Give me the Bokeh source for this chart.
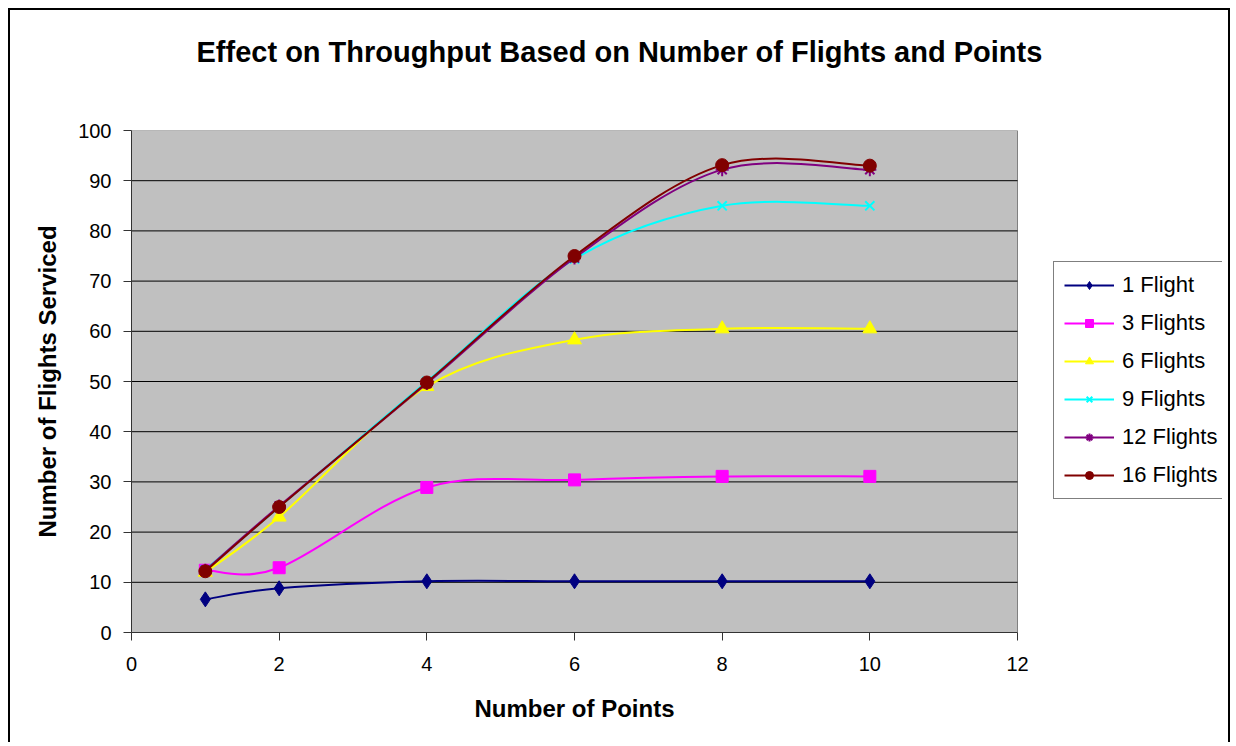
from bokeh.plotting import figure
from bokeh.models import Legend, LegendItem, FixedTicker, ColumnDataSource, Title
from bokeh.embed import file_html
from bokeh.resources import INLINE

points = [1, 2, 4, 6, 8, 10]
series_names = ["1 Flight", "3 Flights", "6 Flights", "9 Flights", "12 Flights", "16 Flights"]
flights_1 = [6.6, 8.8, 10.2, 10.2, 10.2, 10.2]
flights_3 = [12.4, 12.9, 28.9, 30.4, 31.1, 31.1]
flights_6 = [12.0, 23.0, 49.0, 58.3, 60.5, 60.5]
flights_9 = [12.5, 25.0, 50.0, 74.4, 85.0, 85.0]
flights_12 = [12.4, 25.2, 49.6, 74.6, 92.2, 92.2]
flights_16 = [12.2, 25.0, 49.8, 75.0, 93.1, 93.0]
series_values = [flights_1, flights_3, flights_6, flights_9, flights_12, flights_16]
colors = ["#000080", "#FF00FF", "#FFFF00", "#00FFFF", "#800080", "#800000"]
markers = ["diamond", "square", "triangle", "x", "asterisk", "circle"]
marker_sizes = [15, 12, 14, 13, 13, 13]
x_ticks = [0, 2, 4, 6, 8, 10, 12]
y_ticks = [0, 10, 20, 30, 40, 50, 60, 70, 80, 90, 100]
title_text = "Effect on Throughput Based on Number of Flights and Points"
x_title = "Number of Points"
y_title = "Number of Flights Serviced"

FONT = "Liberation Sans"

# layout (pixels)
W, H = 1222, 734
MB_L, MB_T, MB_R, MB_B = 121, 120, 10, 112
PLOT_W = 886  # pixel width of the 0..12 data area
frame_w = W - MB_L - MB_R
x_min, x_max = x_ticks[0], x_ticks[-1]
x_end = x_min + (x_max - x_min) * frame_w / PLOT_W

p = figure(width=W, height=H, x_range=(x_min, x_end), y_range=(y_ticks[0], y_ticks[-1]),
           output_backend="svg", toolbar_location=None,
           min_border_left=MB_L, min_border_top=MB_T, min_border_right=MB_R, min_border_bottom=MB_B)
p.styles = {"border-top": "2px solid black", "border-left": "2px solid black",
            "border-right": "2px solid black", "margin-left": "8px", "margin-top": "8px"}

p.background_fill_color = "white"
p.border_fill_color = "white"
p.outline_line_color = None
p.grid.visible = False

# plot area (gray) and horizontal gridlines limited to the data area
p.quad(left=[x_min], right=[x_max], bottom=[y_ticks[0]], top=[y_ticks[-1]],
       fill_color="#C0C0C0", line_color="#808080", line_width=1)
p.segment(x0=[x_min] * (len(y_ticks) - 2), x1=[x_max] * (len(y_ticks) - 2),
          y0=y_ticks[1:-1], y1=y_ticks[1:-1], line_color="black", line_width=1)

# spacer between frame and title
p.add_layout(Title(text=" ", text_font_size="10px", standoff=28), "above")
main_title = Title(text=title_text, text_font=FONT, text_font_size="29px",
                   text_font_style="bold", text_color="black", align="left",
                   offset=65, standoff=44)
p.add_layout(main_title, "above")

p.xaxis.ticker = FixedTicker(ticks=x_ticks)
p.yaxis.ticker = FixedTicker(ticks=y_ticks)
p.xaxis.bounds = (x_min, x_max)
for ax in (p.xaxis[0], p.yaxis[0]):
    ax.major_label_text_font = FONT
    ax.major_label_text_font_size = "20px"
    ax.major_label_text_color = "black"
    ax.axis_label_text_font = FONT
    ax.axis_label_text_font_style = "bold"
    ax.axis_label_text_color = "black"
    ax.axis_label_text_font_size = "24px"
    ax.major_tick_out = 8
    ax.major_tick_in = 0
    ax.minor_tick_out = 0
    ax.minor_tick_in = 0
    ax.axis_line_color = "#333333"
    ax.major_tick_line_color = "#333333"
p.yaxis.axis_label = y_title
p.xaxis.major_label_standoff = 16
p.yaxis.major_label_standoff = 12
p.yaxis.axis_label_standoff = 14

# x-axis title, centred under the 0..12 data area
x_title_obj = Title(text=x_title, text_font=FONT, text_font_size="24px",
                    text_font_style="bold", text_color="black", align="left",
                    offset=343, standoff=42, vertical_align="top")
p.add_layout(x_title_obj, "below")


def smooth_segments(xs, ys):
    n = len(xs)
    x0, y0, x1, y1, cx0, cy0, cx1, cy1 = [], [], [], [], [], [], [], []
    for i in range(n - 1):
        pa = max(i - 1, 0)
        pd = min(i + 2, n - 1)
        x0.append(xs[i]); y0.append(ys[i])
        x1.append(xs[i + 1]); y1.append(ys[i + 1])
        cx0.append(xs[i] + (xs[i + 1] - xs[pa]) / 6.0)
        cy0.append(ys[i] + (ys[i + 1] - ys[pa]) / 6.0)
        cx1.append(xs[i + 1] - (xs[pd] - xs[i]) / 6.0)
        cy1.append(ys[i + 1] - (ys[pd] - ys[i]) / 6.0)
    return dict(x0=x0, y0=y0, x1=x1, y1=y1, cx0=cx0, cy0=cy0, cx1=cx1, cy1=cy1)


items = []
for name, vals, col, mk, ms in zip(series_names, series_values, colors, markers, marker_sizes):
    seg = ColumnDataSource(smooth_segments(points, vals))
    r_line = p.bezier(x0="x0", y0="y0", x1="x1", y1="y1", cx0="cx0", cy0="cy0",
                      cx1="cx1", cy1="cy1", source=seg, line_color=col, line_width=2)
    lw = 2 if mk in ("x", "asterisk") else 1
    r_pts = p.scatter(points, vals, marker=mk, size=ms, fill_color=col, line_color=col, line_width=lw)
    items.append(LegendItem(label=name, renderers=[r_line, r_pts]))

legend = Legend(items=items, location=(922, 133))
legend.label_text_font = FONT
legend.label_text_font_size = "22px"
legend.label_text_color = "black"
legend.glyph_width = 50
legend.glyph_height = 20
legend.label_height = 20
legend.spacing = 12
legend.padding = 10
legend.margin = 0
legend.label_standoff = 8
legend.border_line_color = "black"
legend.border_line_width = 1
legend.background_fill_color = "white"
legend.background_fill_alpha = 1.0
p.add_layout(legend, "center")

open("out.html", "w").write(file_html(p, INLINE))
